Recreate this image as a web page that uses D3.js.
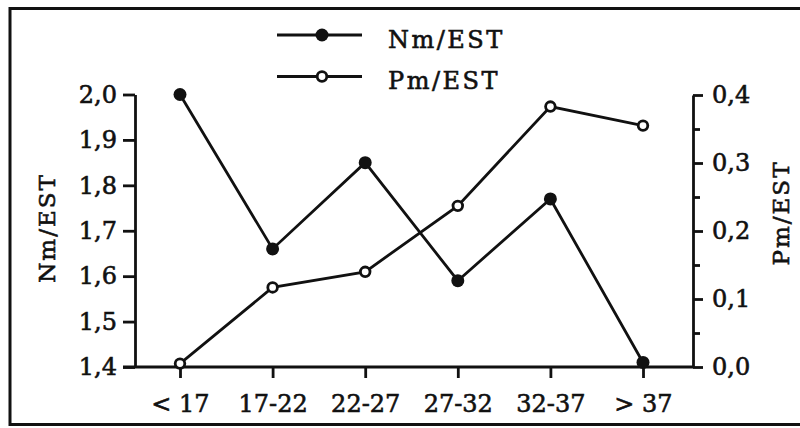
<!DOCTYPE html>
<html>
<head>
<meta charset="utf-8">
<script src="https://cdn.jsdelivr.net/npm/d3@7"></script>
<style>
  html, body { margin: 0; padding: 0; background: #fff; }
  svg { display: block; }
  text { font-family: "DejaVu Serif", "Liberation Serif", serif; fill: #111; stroke: #111; stroke-width: 0.6px; }
</style>
</head>
<body>
<svg id="chart" width="800" height="428"></svg>
<script>
// Age classes on the x axis
const categories = ["< 17", "17-22", "22-27", "27-32", "32-37", "> 37"];
// Left-axis series (Nm/EST, filled markers)
const nmValues = [2.00, 1.66, 1.85, 1.59, 1.77, 1.41];
// Right-axis series (Pm/EST, open markers)
const pmValues = [0.005, 0.117, 0.140, 0.237, 0.383, 0.355];
// Tick values
const leftTicks = [1.4, 1.5, 1.6, 1.7, 1.8, 1.9, 2.0];
const rightTicks = [0.0, 0.1, 0.2, 0.3, 0.4];
const rightMinorTicks = [0.05, 0.15, 0.25, 0.35];
const seriesNames = ["Nm/EST", "Pm/EST"];

const ink = "#111";
const lw = 2.8;
const svg = d3.select("#chart");

// Comma as decimal separator
const locale = d3.formatLocale({ decimal: ",", thousands: ".", grouping: [3], currency: ["", ""] });
const fmt = locale.format(".1f");

const plot = { left: 135, right: 693, top: 95, bottom: 367 };

const x = d3.scalePoint().domain(categories).range([180, 643]);
const yL = d3.scaleLinear().domain([1.4, 2.0]).range([plot.bottom, 94.5]);
const yR = d3.scaleLinear().domain([0, 0.4]).range([plot.bottom, plot.top]);

// Outer frame
svg.append("rect")
  .attr("x", 10).attr("y", 8.5)
  .attr("width", 810).attr("height", 416)
  .attr("fill", "none").attr("stroke", ink).attr("stroke-width", 3);

function styleAxis(g) {
  g.selectAll("line, path").attr("stroke", ink).attr("stroke-width", lw);
  g.selectAll("text").attr("fill", ink).style("font-size", "24px")
    .style("font-family", "'DejaVu Serif', serif");
}

// Left axis
svg.append("g")
  .attr("transform", `translate(${plot.left},0)`)
  .call(d3.axisLeft(yL).tickValues(leftTicks).tickFormat(fmt).tickSize(12).tickSizeOuter(0).tickPadding(6))
  .call(styleAxis);

// Right axis with major and minor ticks
svg.append("g")
  .attr("transform", `translate(${plot.right},0)`)
  .call(d3.axisRight(yR).tickValues(rightTicks).tickFormat(fmt).tickSize(10).tickSizeOuter(0).tickPadding(9))
  .call(styleAxis);
svg.append("g")
  .attr("transform", `translate(${plot.right},0)`)
  .call(d3.axisRight(yR).tickValues(rightMinorTicks).tickFormat("").tickSize(7).tickSizeOuter(0))
  .call(g => g.select(".domain").remove())
  .call(styleAxis);

// Bottom axis
const xAxis = svg.append("g")
  .attr("transform", `translate(0,${plot.bottom})`)
  .call(d3.axisBottom(x).tickSize(11).tickPadding(17))
  .call(g => g.select(".domain").remove())
  .call(styleAxis);
xAxis.append("line")
  .attr("x1", plot.left - 12).attr("x2", plot.right)
  .attr("stroke", ink).attr("stroke-width", lw);

// Axis titles
svg.append("text")
  .attr("transform", "translate(47,228) rotate(-90)")
  .attr("text-anchor", "middle").attr("dominant-baseline", "central")
  .style("font-size", "23px").style("letter-spacing", "2px")
  .text(seriesNames[0]);
svg.append("text")
  .attr("transform", "translate(781,213) rotate(-90)")
  .attr("text-anchor", "middle").attr("dominant-baseline", "central")
  .style("font-size", "23px").style("letter-spacing", "2px")
  .text(seriesNames[1]);

// Series lines
const nmData = categories.map((c, i) => ({ c, v: nmValues[i] }));
const pmData = categories.map((c, i) => ({ c, v: pmValues[i] }));

svg.append("path").datum(pmData)
  .attr("fill", "none").attr("stroke", ink).attr("stroke-width", lw)
  .attr("d", d3.line().x(d => x(d.c)).y(d => yR(d.v)));
svg.append("path").datum(nmData)
  .attr("fill", "none").attr("stroke", ink).attr("stroke-width", lw)
  .attr("d", d3.line().x(d => x(d.c)).y(d => yL(d.v)));

// Markers
svg.append("g").selectAll("circle").data(pmData).join("circle")
  .attr("cx", d => x(d.c)).attr("cy", d => yR(d.v)).attr("r", 4.8)
  .attr("fill", "#fff").attr("stroke", ink).attr("stroke-width", 2.8);
svg.append("g").selectAll("circle").data(nmData).join("circle")
  .attr("cx", d => x(d.c)).attr("cy", d => yL(d.v)).attr("r", 6.5)
  .attr("fill", ink);

// Legend
const legend = svg.append("g");
const legendRows = [
  { name: seriesNames[0], y: 35, filled: true },
  { name: seriesNames[1], y: 76.5, filled: false }
];
legendRows.forEach(r => {
  legend.append("line")
    .attr("x1", 277).attr("x2", 362).attr("y1", r.y).attr("y2", r.y)
    .attr("stroke", ink).attr("stroke-width", lw);
  legend.append("circle")
    .attr("cx", 322).attr("cy", r.y).attr("r", r.filled ? 6.5 : 4.8)
    .attr("fill", r.filled ? ink : "#fff")
    .attr("stroke", ink).attr("stroke-width", r.filled ? 0 : 2.8);
  legend.append("text")
    .attr("x", 388).attr("y", r.y + 12.5)
    .style("font-size", "24px").style("letter-spacing", "2.5px")
    .text(r.name);
});
</script>
</body>
</html>
